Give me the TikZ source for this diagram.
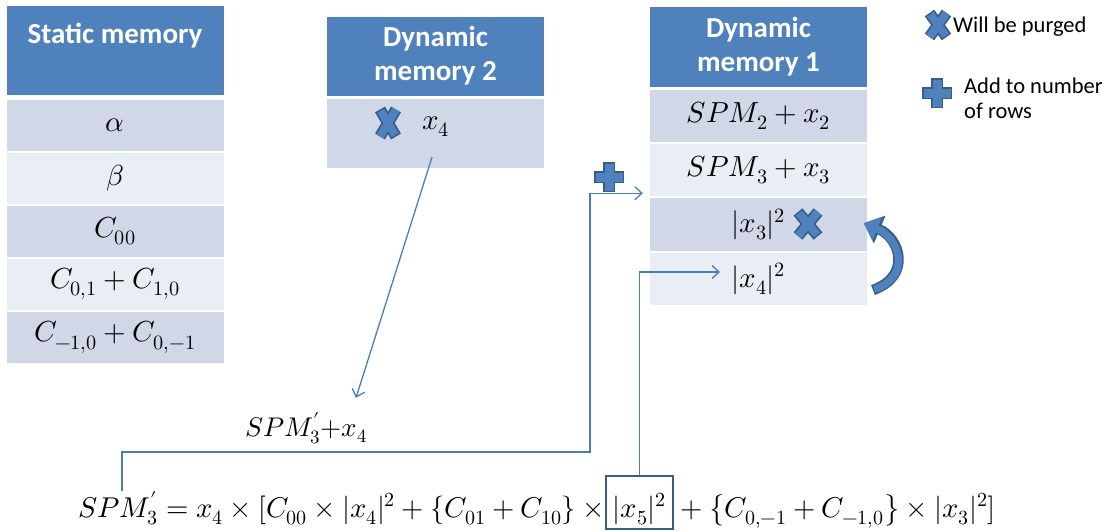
\documentclass[tikz,border=0pt]{standalone}
\usepackage{fontspec}
\usepackage{unicode-math}
\setmainfont{Carlito}
\usetikzlibrary{arrows.meta}
\definecolor{hdr}{HTML}{4F81BD}
\definecolor{rowd}{HTML}{D0D8E8}
\definecolor{rowl}{HTML}{E9EDF4}
\definecolor{icondark}{HTML}{385D8A}
\definecolor{linec}{HTML}{4A7EBB}
\newcommand\purgeicon[4]{%
  \begin{scope}[shift={(#1,#2)}]
    \draw[line width=11.5pt, icondark] (-#3,-#4)--(#3,#4) (-#3,#4)--(#3,-#4);
    \draw[line width=8pt, hdr, shorten <=1.5pt, shorten >=1.5pt] (-#3,-#4)--(#3,#4) (-#3,#4)--(#3,-#4);
  \end{scope}}
\newcommand\addicon[2]{%
  \begin{scope}[shift={(#1,#2)}]
    \draw[line width=12pt, icondark] (-15,0)--(15,0) (0,-15)--(0,15);
    \draw[line width=9pt, hdr] (-13.5,0)--(13.5,0) (0,-13.5)--(0,13.5);
  \end{scope}}
\tikzset{
  hdrbox/.style={fill=hdr, text=white, font=\fontsize{29}{34}\selectfont\bfseries, align=center, minimum width=217pt, inner sep=0pt},
  rowbox/.style={minimum width=217pt, inner sep=0pt, font=\fontsize{29}{34}\selectfont},
  dkrow/.style={rowbox, fill=rowd, minimum height=51pt},
  ltrow/.style={rowbox, fill=rowl, minimum height=51pt},
  eqtext/.style={inner sep=0pt, font=\fontsize{28.6}{34}\selectfont},
  legend/.style={inner sep=0pt, font=\fontsize{22.5}{25}\selectfont},
  conn/.style={draw=linec, line width=1.3pt, -{Straight Barb[length=7pt,width=13pt]}},
}
\begin{document}
\begin{tikzpicture}[x=1pt,y=1pt]
\useasboundingbox (0,0) rectangle (1116,-531);
% Static memory
\node[hdrbox, minimum height=89pt] (sh) at (115,-50) {Static memory\\\mbox{}};
\node[dkrow] (s1) at (115,-125.7) {$\alpha$};
\node[ltrow] (s2) at (115,-178.2) {$\beta$};
\node[dkrow] (s3) at (115,-231) {$C_{00}$};
\node[ltrow] (s4) at (115,-284) {$C_{0,1}+C_{1,0}$};
\node[dkrow] (s5) at (115,-337.3) {$C_{-1,0}+C_{0,-1}$};
% Dynamic memory 2
\node[hdrbox, minimum height=79pt] (d2h) at (435.5,-56) {Dynamic\\memory 2};
\node[dkrow, minimum height=69pt] (d2r1) at (435.5,-133.5) {};
\node[rowbox, minimum width=0pt] (x4) at (436,-127) {$x_4$};
\purgeicon{388}{-123}{8}{13.5}
% Dynamic memory 1
\node[hdrbox, minimum height=80pt] (d1h) at (758.5,-46.5) {Dynamic\\memory 1};
\node[dkrow, minimum height=52pt] (d1r1) at (758.5,-116) {$SPM_2+x_2$};
\node[ltrow, minimum height=52pt] (d1r2) at (758.5,-170) {$SPM_3+x_3$};
\node[dkrow, minimum height=53pt] (d1r3) at (758.5,-224.5) {$|x_3|^2$};
\node[ltrow, minimum height=52pt] (d1r4) at (758.5,-279) {$|x_4|^2$};
\purgeicon{808}{-224}{10}{12}
\addicon{609}{-177}
% curved arrow from row 4 to row 3
\draw[line width=10.5pt, icondark, -{Triangle[length=17pt,width=29pt]}] (873,-290) .. controls (912,-276) and (900,-238) .. (864,-223);
\draw[line width=7.5pt, hdr, shorten <=1.4pt, -{Triangle[length=14.5pt,width=25pt]}] (873,-290) .. controls (912,-276) and (900,-238) .. ([shift={(-1.5pt,-0.6pt)}]865.3,-222.9);
% legend
\purgeicon{938}{-25}{8.5}{12}
\node[legend, anchor=base west] (lg1) at (953,-32) {Will be purged};
\addicon{937}{-93}
\node[legend, anchor=west, align=left] (lg2) at (964,-98) {Add to number\\of rows};
% equation
\node[draw=icondark, line width=2.5pt, inner sep=0pt, minimum width=67pt, text height=41pt, text depth=12pt, eqtext, anchor=base] (x5) at (639.5,-517) {$|x_5|^2$};
\node[eqtext, anchor=base east] (eqL) at (x5.base west) {$SPM'_3 = x_4\times[C_{00}\times|x_4|^2+\{C_{01}+C_{10}\}\mskip\medmuskip\times$};
\node[eqtext, anchor=base west] (eqR) at (x5.base east) {${}+\bigl\{C_{0,-1}+C_{-1,0}\bigr\}\times|x_3|^2]$};
\node[anchor=base west, inner sep=0pt, font=\fontsize{27}{30}\selectfont] (lab) at (245,-436) {$SPM'_3{+}x_4$};
% connectors
\coordinate (j1) at (590,-452);
\coordinate (t4) at (720,-272);
\draw[conn] ([xshift=44pt]eqL.north west) |- (j1) |- ([xshift=-7pt,yshift=3pt]d1r2.south west);
\draw[conn] (x5.north) |- (t4);
\draw[conn] ([shift={(-4pt,-20pt)}]x4.south) -- ([shift={(111pt,14pt)}]lab.north west);
\end{tikzpicture}
\end{document}
